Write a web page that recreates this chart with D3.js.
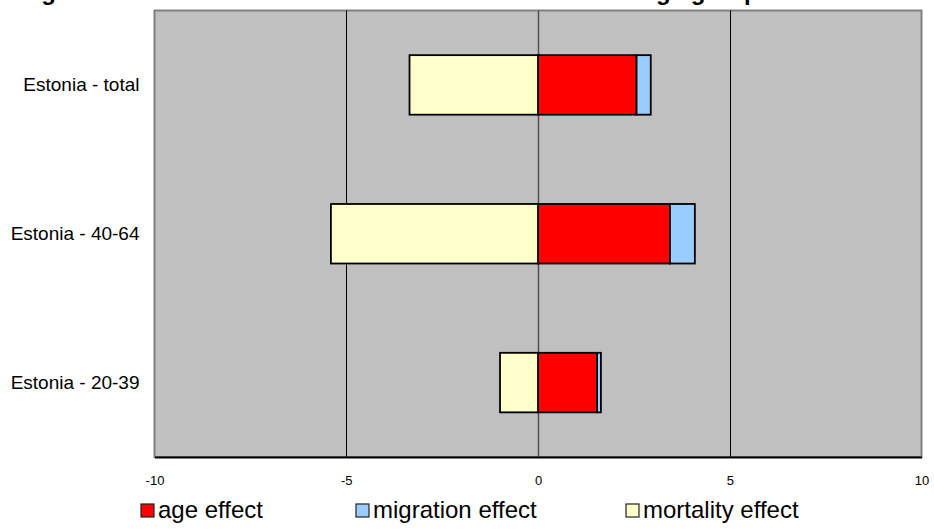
<!DOCTYPE html>
<html>
<head>
<meta charset="utf-8">
<script src="https://cdn.jsdelivr.net/npm/d3@7/dist/d3.min.js"></script>
<style>
  html, body { margin: 0; padding: 0; background: #ffffff; }
  svg { display: block; font-family: Arial, "Liberation Sans", sans-serif; }
</style>
</head>
<body>
<svg id="chart" width="934" height="529"></svg>
<script>
// Groups shown on the vertical axis, top to bottom
const categories = ["Estonia - total", "Estonia - 40-64", "Estonia - 20-39"];

// Contributions of each effect (percentage points)
const ageEffect       = [2.57, 3.44, 1.54];
const migrationEffect = [0.37, 0.65, 0.10];
const mortalityEffect = [-3.35, -5.40, -0.99];

const seriesNames  = ["age effect", "migration effect", "mortality effect"];
const seriesColors = ["#ff0000", "#99ccff", "#ffffcc"];

const xTicks = [-10, -5, 0, 5, 10];
const titleText = "Figure 4. Three effects on the Estonian labour force in age groups";

const svg = d3.select("#chart");
const plot = { left: 154.5, right: 921.5, top: 10.5, bottom: 457 };

const x = d3.scaleLinear().domain([-10, 10]).range([plot.left, plot.right]);
const y = d3.scaleBand().domain(categories).range([plot.top, plot.bottom]).paddingInner(0.6).paddingOuter(0.3);

// Title sits at the very top edge
svg.append("text")
  .attr("x", 20).attr("y", 0)
  .attr("font-size", 24).attr("font-weight", "bold")
  .attr("fill", "#000")
  .text(titleText);

// Plot background
svg.append("rect")
  .attr("x", plot.left).attr("y", plot.top)
  .attr("width", plot.right - plot.left).attr("height", plot.bottom - plot.top)
  .attr("fill", "#c0c0c0")
  .attr("stroke", "#808080").attr("stroke-width", 2);

// Vertical gridlines
svg.append("g").selectAll("line")
  .data(xTicks.filter(t => t !== -10 && t !== 10))
  .join("line")
  .attr("x1", d => Math.round(x(d)) + 0.5).attr("x2", d => Math.round(x(d)) + 0.5)
  .attr("y1", plot.top).attr("y2", plot.bottom)
  .attr("stroke", d => d === 0 ? "#505050" : "#000")
  .attr("stroke-width", d => d === 0 ? 1.5 : 1);

// Stacked bars: positives stack right from zero, negatives left
const stacks = categories.map((c, i) => {
  const vals = [ageEffect[i], migrationEffect[i], mortalityEffect[i]];
  let pos = 0, neg = 0;
  return vals.map((v, k) => {
    let x0, x1;
    if (v >= 0) { x0 = pos; x1 = pos + v; pos = x1; }
    else { x0 = neg + v; x1 = neg; neg = x0; }
    return { cat: c, key: k, x0, x1 };
  });
}).flat();

svg.append("g").selectAll("rect")
  .data(stacks)
  .join("rect")
  .attr("x", d => x(d.x0))
  .attr("width", d => x(d.x1) - x(d.x0))
  .attr("y", d => y(d.cat))
  .attr("height", y.bandwidth())
  .attr("fill", d => seriesColors[d.key])
  .attr("stroke", "#000")
  .attr("stroke-width", 1.8);

// Bottom axis (plain hyphen for negatives)
const xAxis = d3.axisBottom(x).tickValues(xTicks).tickSize(0).tickPadding(19).tickFormat(d => String(d));
const gx = svg.append("g").attr("transform", `translate(0,${plot.bottom})`).call(xAxis);
gx.select(".domain").attr("stroke", "#000").attr("stroke-width", 2);
gx.selectAll("text").attr("font-size", 13).attr("fill", "#000").attr("font-family", "Arial, 'Liberation Sans', sans-serif");

// Category labels
const yAxis = d3.axisLeft(y).tickSize(0).tickPadding(15);
const gy = svg.append("g").attr("transform", `translate(${plot.left},0)`).call(yAxis);
gy.select(".domain").remove();
gy.selectAll("text").attr("font-size", 19).attr("fill", "#000").attr("font-family", "Arial, 'Liberation Sans', sans-serif");

// Legend
const legendX = [141, 356, 626];
const legend = svg.append("g").selectAll("g")
  .data(seriesNames)
  .join("g")
  .attr("transform", (d, i) => `translate(${legendX[i]},504)`);
legend.append("rect")
  .attr("width", 13).attr("height", 13)
  .attr("fill", (d, i) => seriesColors[i])
  .attr("stroke", "#222").attr("stroke-width", 1.2);
legend.append("text")
  .attr("x", 17).attr("y", 14)
  .attr("font-size", 24).attr("fill", "#000")
  .text(d => d);
</script>
</body>
</html>
